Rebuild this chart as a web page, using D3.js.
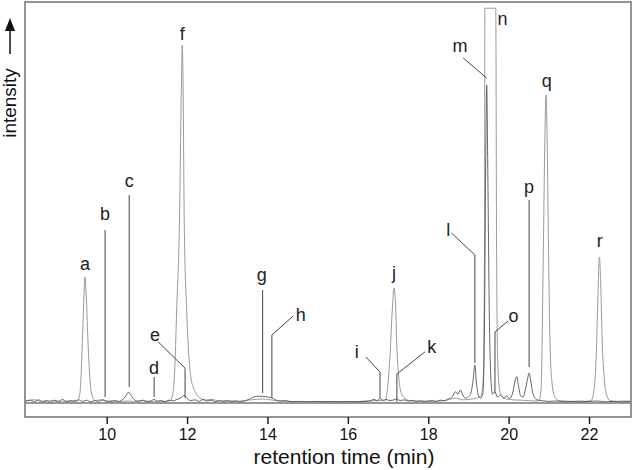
<!DOCTYPE html>
<html>
<head>
<meta charset="utf-8">
<script src="https://cdn.jsdelivr.net/npm/d3@7"></script>
<style>
  body { margin: 0; background: #fff; }
  svg { display: block; font-family: "Liberation Sans", Arial, sans-serif; }
</style>
</head>
<body>
<div id="chart"></div>
<script>
// retention time ticks (min)
var timeTicks = [10, 12, 14, 16, 18, 20, 22];

// light trace: main compounds a, f, j, n, q, r  [time, intensity]
var lightTrace = [
  [7.97,0.5],[8.2,0.8],[8.4,0.3],[8.6,0.6],[8.8,0.4],[9.0,0.5],[9.15,0.4],
  [9.28,0.5],[9.34,3],[9.39,14],[9.44,28],[9.46,31.5],[9.49,27],[9.54,14],[9.59,5],[9.65,1.5],[9.72,0.6],
  [9.85,0.8],[10.0,0.4],[10.15,0.6],[10.3,0.3],[10.5,0.5],[10.7,0.4],[10.9,0.6],[11.1,0.4],[11.3,0.5],[11.45,0.4],
  [11.58,0.6],[11.64,2],[11.70,10],[11.74,23],[11.81,45],[11.86,80],[11.88,89.5],[11.90,80],[11.93,45],[11.99,23],
  [12.05,11],[12.10,6],[12.15,4],[12.22,2.5],[12.32,1.2],[12.45,0.7],
  [12.6,0.9],[12.8,0.5],[13.0,0.6],[13.3,0.4],[13.6,0.8],[13.9,1.0],[14.2,0.6],[14.5,0.4],[15.0,0.3],[15.5,0.35],
  [16.0,0.3],[16.5,0.5],[16.8,0.6],
  [16.92,0.6],[16.98,3],[17.05,12],[17.11,24],[17.15,28.75],[17.18,26],[17.22,14],[17.27,6],[17.33,2.5],[17.42,1.2],[17.55,0.6],
  [17.8,0.5],[18.1,0.4],[18.4,0.6],[18.7,1.2],[18.85,0.8],[19.0,0.9],[19.2,1.2],[19.32,2],
  [19.37,6],[19.40,40],[19.41,98.7],[19.68,98.7],[19.70,40],[19.73,10],[19.78,3],[19.85,1.5],[19.95,1],
  [20.1,0.8],[20.3,0.7],[20.5,0.6],[20.65,0.5],
  [20.76,0.6],[20.81,4],[20.86,35],[20.90,65],[20.93,77],[20.96,65],[20.99,40],[21.03,15],[21.08,5],[21.15,1.5],[21.25,0.6],
  [21.4,0.5],[21.6,0.4],[21.8,0.5],[21.95,0.4],
  [22.05,0.6],[22.12,3],[22.18,12],[22.22,26],[22.26,36.5],[22.29,30],[22.33,15],[22.38,6],[22.44,2],[22.52,0.6],
  [22.7,0.4],[22.9,0.5],[23.04,0.4]
];

// dark trace: minor compounds and noisy baseline
var darkTrace = [
  [7.97,0.4],[8.1,0.7],[8.2,0.3],[8.3,0.8],[8.4,0.4],[8.5,0.6],[8.6,0.2],[8.7,0.7],[8.8,0.4],[8.9,0.9],
  [9.0,0.3],[9.1,0.6],[9.2,0.5],[9.3,0.8],[9.4,0.4],[9.5,0.7],[9.6,0.3],[9.7,0.6],[9.8,0.4],[9.9,0.8],
  [10.0,0.5],[10.1,0.3],[10.2,0.6],[10.3,0.4],[10.4,0.9],[10.48,1.8],[10.53,2.6],[10.58,2.4],[10.64,1.4],[10.72,0.6],
  [10.8,0.4],[10.9,0.7],[11.0,0.3],[11.1,0.5],[11.18,0.9],[11.26,0.4],[11.35,0.6],[11.45,0.3],[11.55,0.7],[11.65,0.5],
  [11.75,0.9],[11.85,1.3],[11.93,1.9],[12.0,1.2],[12.08,0.6],[12.2,0.8],[12.3,0.4],[12.4,0.9],[12.5,0.5],[12.6,0.7],
  [12.7,0.3],[12.8,0.6],[12.9,0.4],[13.0,0.5],[13.1,0.3],[13.2,0.5],[13.3,0.4],[13.45,0.6],[13.55,1.0],[13.65,1.5],
  [13.8,1.7],[13.95,1.6],[14.1,1.3],[14.2,0.8],[14.3,0.5],[14.45,0.6],[14.6,0.3],[14.8,0.4],[15.0,0.3],[15.2,0.4],
  [15.4,0.3],[15.6,0.35],[15.8,0.3],[16.0,0.35],[16.2,0.3],[16.4,0.4],[16.55,0.5],[16.65,0.9],[16.72,0.6],[16.8,1.1],
  [16.88,0.7],[16.95,0.9],[17.05,0.6],[17.15,0.8],[17.22,1.0],[17.3,0.6],[17.4,0.8],[17.5,0.5],[17.6,0.6],[17.7,0.4],
  [17.8,0.5],[17.9,0.4],[18.0,0.5],[18.1,0.6],[18.2,0.4],[18.3,0.7],[18.4,0.6],[18.5,1.0],[18.6,1.6],[18.68,2.8],
  [18.74,2.2],[18.8,3.3],[18.86,2.0],[18.92,1.2],[19.0,1.6],[19.06,2.5],[19.12,6],[19.16,9.5],[19.2,5],[19.25,1.8],
  [19.3,1.2],[19.36,2.5],[19.40,20],[19.43,60],[19.455,79.5],[19.48,60],[19.52,22],[19.56,6],[19.6,2.2],[19.66,2.8],
  [19.72,1.5],[19.8,2],[19.88,1.2],[19.95,1.8],[20.02,1.1],[20.1,2.5],[20.16,5.5],[20.2,6.6],[20.25,4],[20.3,1.8],
  [20.36,1.5],[20.42,3.5],[20.47,6],[20.51,7.5],[20.55,5.5],[20.6,2.5],[20.66,1.2],[20.72,0.8],[20.8,0.6],[20.9,0.5],
  [21.0,0.4],[21.2,0.5],[21.4,0.3],[21.6,0.4],[21.8,0.3],[22.0,0.4],[22.2,0.5],[22.4,0.3],[22.6,0.4],[22.8,0.3],[23.04,0.4]
];

// peak letters with label anchor and leader line, in [time, intensity]
var peakLetters = ["a","b","c","d","e","f","g","h","i","j","k","l","m","n","o","p","q","r"];
var labelAt = [
  [9.46,33.25],[9.96,45.75],[10.56,54],[11.18,7.25],[11.20,15.4],[11.88,90.75],[13.86,30.5],[14.83,20.6],[16.22,11.25],
  [17.15,31],[18.09,12.4],[18.50,41.75],[18.79,87.8],[19.85,94.5],[20.12,20.25],[20.51,52.5],[20.95,79.1],[22.27,39.1]
];
var leaders = [
  [],
  [[9.96,43.25],[9.96,1.5]],
  [[10.56,52],[10.56,4]],
  [[11.18,6.5],[11.18,1.5]],
  [[11.28,15.3],[11.95,8.7],[11.95,1.25]],
  [],
  [[13.88,28.25],[13.88,2.5]],
  [[14.64,21.75],[14.11,17],[14.11,1.25]],
  [[16.45,11.5],[16.80,7.75],[16.80,1.25]],
  [],
  [[17.92,12.8],[17.22,7.25],[17.22,0.3]],
  [[18.58,42.5],[19.16,37],[19.16,10]],
  [[18.87,86.25],[19.455,81.25]],
  [],
  [[19.985,20.5],[19.66,17.75],[19.66,2.5]],
  [[20.51,50.75],[20.51,9]],
  [],
  []
];

var W = 633, H = 470;
var frame = {left: 25, top: 2, right: 631, bottom: 417};

var x = d3.scaleLinear().domain([8, 23]).range([26.3, 629.2]);
var y = d3.scaleLinear().domain([0, 100]).range([403, 3]);

var svg = d3.select("#chart").append("svg")
    .attr("width", W)
    .attr("height", H);

svg.append("clipPath")
    .attr("id", "clip")
    .append("rect")
    .attr("x", frame.left)
    .attr("y", frame.top)
    .attr("width", frame.right - frame.left)
    .attr("height", frame.bottom - frame.top);

var line = d3.line()
    .curve(d3.curveMonotoneX)
    .x(function(d) { return x(d[0]); })
    .y(function(d) { return y(d[1]); });

// baseline
svg.append("line")
    .attr("x1", frame.left).attr("x2", frame.right)
    .attr("y1", y(0)).attr("y2", y(0))
    .style("stroke", "#333")
    .style("stroke-width", 1);

svg.append("path")
    .datum(lightTrace)
    .attr("clip-path", "url(#clip)")
    .attr("d", line)
    .style("fill", "none")
    .style("stroke", "#9a9a9a")
    .style("stroke-width", 1);

svg.append("path")
    .datum(darkTrace)
    .attr("clip-path", "url(#clip)")
    .attr("d", line)
    .style("fill", "none")
    .style("stroke", "#555")
    .style("stroke-width", 0.9);

// leader lines
var leaderLine = d3.line()
    .x(function(d) { return x(d[0]); })
    .y(function(d) { return y(d[1]); });

svg.selectAll(".leader")
    .data(leaders.filter(function(d) { return d.length; }))
    .enter()
    .append("path")
    .attr("class", "leader")
    .attr("d", leaderLine)
    .style("fill", "none")
    .style("stroke", "#444")
    .style("stroke-width", 1);

svg.selectAll(".peak-label")
    .data(peakLetters)
    .enter()
    .append("text")
    .attr("class", "peak-label")
    .attr("x", function(d, i) { return x(labelAt[i][0]); })
    .attr("y", function(d, i) { return y(labelAt[i][1]); })
    .attr("text-anchor", "middle")
    .style("font-size", "18px")
    .style("fill", "#222")
    .text(function(d) { return d; });

// frame
svg.append("rect")
    .attr("x", frame.left)
    .attr("y", frame.top)
    .attr("width", frame.right - frame.left)
    .attr("height", frame.bottom - frame.top)
    .style("fill", "none")
    .style("stroke", "#888")
    .style("stroke-width", 1.8);

// x axis
var xAxis = svg.append("g")
    .attr("transform", "translate(0," + frame.bottom + ")")
    .call(d3.axisBottom(x)
        .tickValues(timeTicks)
        .tickSize(7)
        .tickPadding(5)
        .tickFormat(d3.format("d")));
xAxis.select(".domain").remove();
xAxis.selectAll(".tick line").style("stroke", "#222").style("stroke-width", 1.5);
xAxis.selectAll(".tick text")
    .style("font-family", "Liberation Sans, Arial, sans-serif")
    .style("font-size", "16px")
    .style("fill", "#111");

svg.append("text")
    .attr("x", 344)
    .attr("y", 464)
    .attr("text-anchor", "middle")
    .style("font-size", "21px")
    .style("fill", "#111")
    .text("retention time (min)");

// y label with arrow
svg.append("text")
    .attr("transform", "translate(16,103) rotate(-90)")
    .attr("text-anchor", "middle")
    .style("font-size", "19px")
    .style("fill", "#111")
    .text("intensity");

svg.append("line")
    .attr("x1", 10).attr("x2", 10)
    .attr("y1", 54).attr("y2", 28)
    .style("stroke", "#111")
    .style("stroke-width", 1.5);
svg.append("path")
    .attr("d", "M10,18 L5,31 L15,31 Z")
    .style("fill", "#111");
</script>
</body>
</html>
